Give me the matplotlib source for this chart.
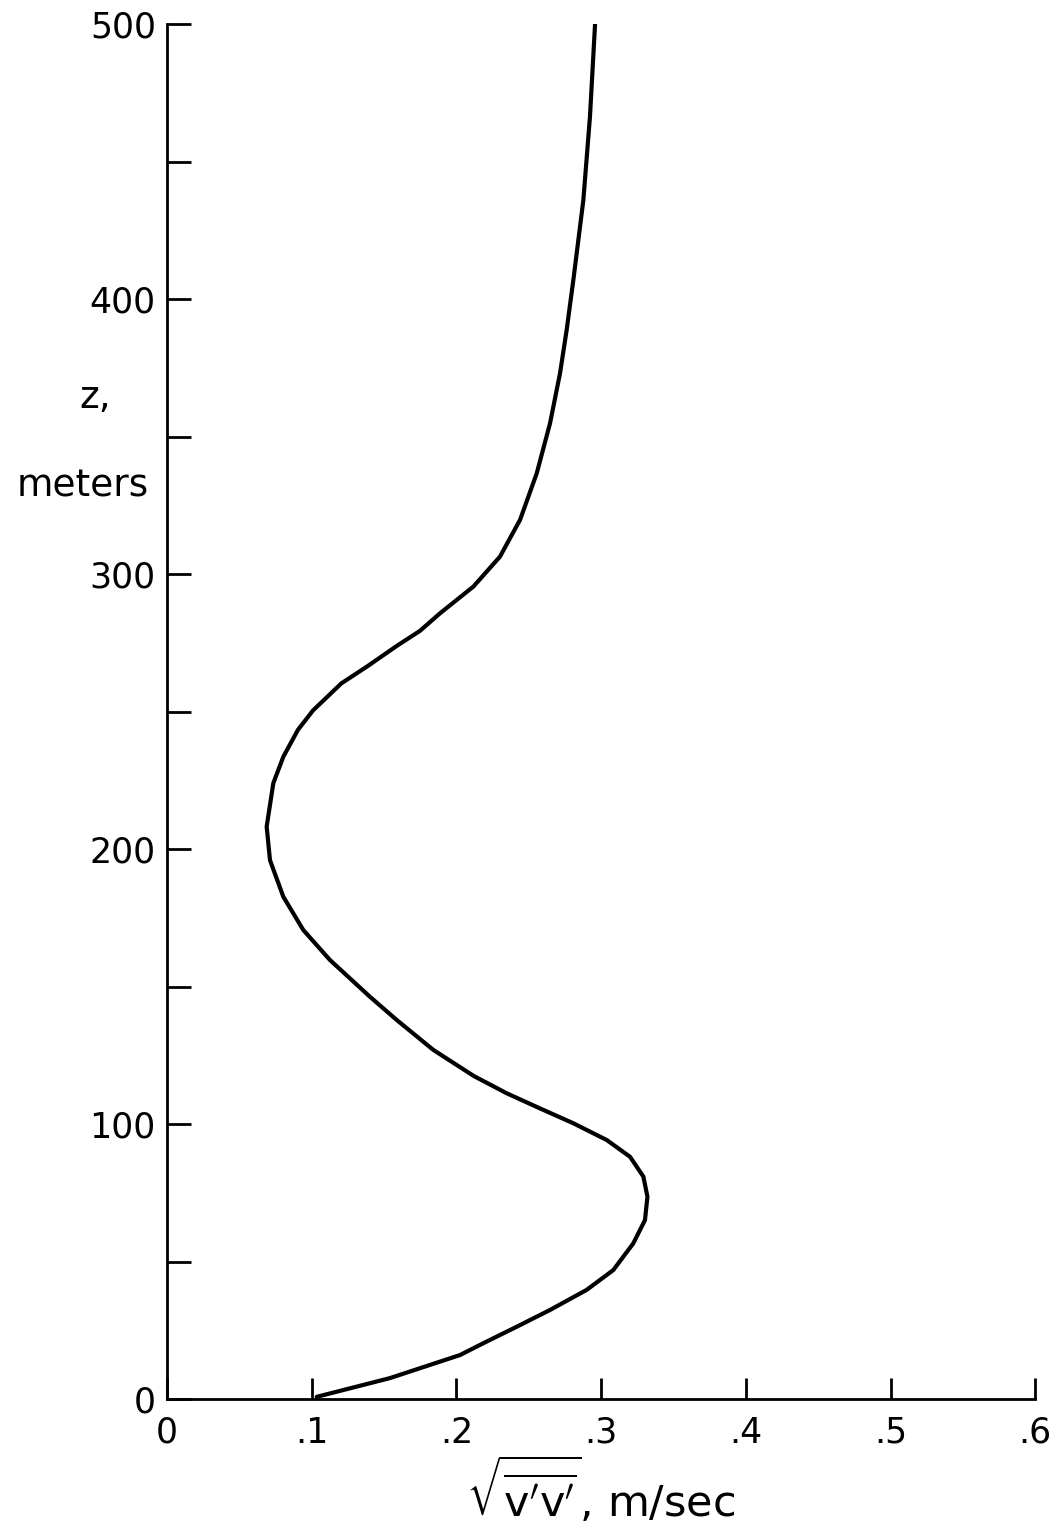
import numpy as np
import matplotlib
matplotlib.use('Agg')
import matplotlib.pyplot as plt

plt.rcParams['font.family'] = ['DejaVu Sans']
plt.rcParams['mathtext.fontset'] = 'dejavusans'

# profile: rms v' (m/sec) vs height z (m)
vrms = [0.1035, 0.154, 0.2025, 0.2186, 0.2417, 0.2647, 0.290, 0.3084, 0.3222,
        0.3303, 0.332, 0.3292, 0.320, 0.3039, 0.2808, 0.2578, 0.2348, 0.212,
        0.184, 0.1587, 0.1403, 0.1126, 0.0942, 0.0804, 0.0712, 0.0689, 0.0735, 0.0804,
        0.0905, 0.101, 0.1205, 0.1387, 0.1587, 0.1748, 0.1887, 0.2117, 0.2301, 0.244,
        0.2555, 0.2647, 0.2716, 0.2762, 0.2808, 0.2877, 0.2923, 0.2958]
z = [0.8, 7.6, 16, 20.3, 26.3, 32.4, 39.7, 46.9, 56.6,
     65.1, 73.6, 80.9, 88.1, 94.2, 100.3, 105.7, 111.2, 117.5,
     127, 137.9, 146.3, 159.7, 170.6, 182.7, 196, 208.2, 224, 233.6,
     243.4, 250.5, 260.3, 266.6, 273.9, 279.4, 285.8, 295.5, 306.4, 319.8,
     336.7, 354.9, 373.1, 388.9, 407, 436, 466.5, 500]

xticks = [0, 0.1, 0.2, 0.3, 0.4, 0.5, 0.6]
xticklabels = ['0', '.1', '.2', '.3', '.4', '.5', '.6']
yticks = [0, 50, 100, 150, 200, 250, 300, 350, 400, 450, 500]
yticklabels = ['0', '', '100', '', '200', '', '300', '', '400', '', '500']

fig = plt.figure(figsize=(10.5, 15.24), dpi=100)
ax = fig.add_axes([0.159, 0.082, 0.827, 0.902])

ax.plot(vrms, z, color='black', lw=3, solid_capstyle='round', solid_joinstyle='round')

ax.set_xlim(0, 0.6)
ax.set_ylim(0, 500)
ax.spines['top'].set_visible(False)
ax.spines['right'].set_visible(False)
ax.spines['left'].set_linewidth(2)
ax.spines['bottom'].set_linewidth(2)

ax.set_xticks(xticks)
ax.set_xticklabels(xticklabels)
ax.set_yticks(yticks)
ax.set_yticklabels(yticklabels)
ax.tick_params(axis='both', direction='in', width=2, labelsize=25, colors='black')
ax.tick_params(axis='x', length=15, pad=12)
ax.tick_params(axis='y', length=17, pad=8)

fig.text(0.091, 0.739, 'z,', fontsize=27, ha='center', va='center')
fig.text(0.079, 0.681, 'meters', fontsize=27, ha='center', va='center')
fig.text(0.572, 0.022, r'$\sqrt{\overline{\mathrm{v}^{\prime}\mathrm{v}^{\prime}}}$, m/sec',
         fontsize=31, ha='center', va='center')

fig.savefig('out.png', dpi=100, facecolor='white')
